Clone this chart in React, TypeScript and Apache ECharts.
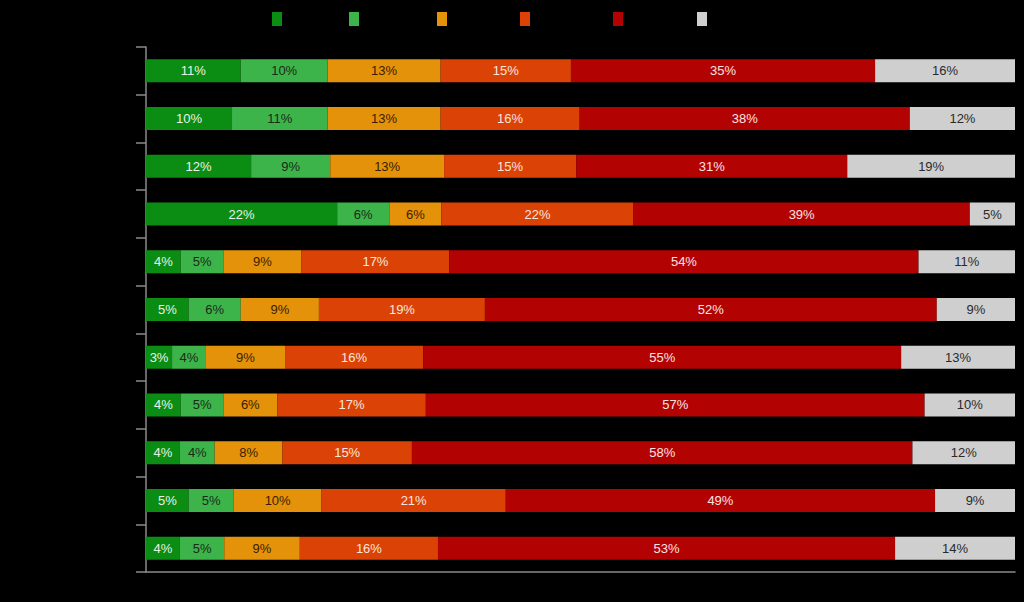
import React, { useEffect, useRef } from "react";
import * as echarts from "echarts";

const categories = ["R1", "R2", "R3", "R4", "R5", "R6", "R7", "R8", "R9", "R10", "R11"];
const seriesNames = ["S1", "S2", "S3", "S4", "S5", "S6"];
const colors = ["#0b8c12", "#3db449", "#e3920a", "#db4205", "#b30202", "#cfcfcf"];
const labelColors = ["#e8f2e8", "#1a2a1a", "#3a1d00", "#f8e6de", "#f8e2e2", "#2a2a2a"];

const s1 = [10.9, 9.9, 12.1, 22.0, 4.0, 4.9, 3.0, 4.0, 3.9, 4.9, 3.9];
const s2 = [10.0, 11.0, 9.1, 6.0, 4.9, 6.0, 3.9, 4.9, 4.0, 5.2, 5.1];
const s3 = [13.0, 13.0, 13.1, 6.0, 9.0, 9.0, 9.1, 6.2, 7.8, 10.1, 8.7];
const s4 = [15.0, 16.0, 15.2, 22.1, 17.0, 19.1, 15.9, 17.1, 14.9, 21.2, 15.9];
const s5 = [35.0, 38.0, 31.2, 38.7, 54.0, 52.0, 55.0, 57.4, 57.6, 49.4, 52.6];
const s6 = [16.1, 12.1, 19.3, 5.2, 11.1, 9.0, 13.1, 10.4, 11.8, 9.2, 13.8];
const seriesData = [s1, s2, s3, s4, s5, s6];

const legendLeft = [272, 349, 437, 520, 613, 697];

export default function App() {
  const ref = useRef<HTMLDivElement>(null);
  useEffect(() => {
    document.body.style.margin = "0";
    document.body.style.background = "#000";
    const chart = echarts.init(ref.current!, null, { renderer: "svg" });
    chart.setOption({
      animation: false,
      backgroundColor: "#000",
      legend: seriesNames.map((n, i) => ({
        data: [{ name: n, icon: "rect" }],
        left: legendLeft[i],
        top: 12,
        itemWidth: 10,
        itemHeight: 14,
        itemGap: 0,
        padding: 0,
        formatter: () => "",
        textStyle: { color: "#000", fontSize: 1 },
        selectedMode: false,
      })),
      grid: { left: 146, right: 9, top: 47, bottom: 30, containLabel: false },
      xAxis: {
        type: "value",
        min: 0,
        max: 100,
        splitLine: { show: false },
        axisLabel: { show: false },
        axisTick: { show: false },
        axisLine: { show: true, lineStyle: { color: "#8a8a8a", width: 1.5 } },
      },
      yAxis: {
        type: "category",
        data: categories,
        inverse: true,
        axisLabel: { show: false },
        axisTick: { show: true, length: 10, lineStyle: { color: "#8a8a8a", width: 1.5 } },
        axisLine: { show: true, lineStyle: { color: "#8a8a8a", width: 1.5 } },
      },
      series: seriesNames.map((n, i) => ({
        name: n,
        type: "bar",
        stack: "all",
        barWidth: 23,
        data: seriesData[i],
        itemStyle: { color: colors[i] },
        label: {
          show: true,
          position: "inside",
          color: labelColors[i],
          fontSize: 13,
          fontFamily: "Liberation Sans, Arial, sans-serif",
          formatter: (p: any) => Math.round(p.value) + "%",
        },
      })),
    });
    return () => chart.dispose();
  }, []);
  return <div ref={ref} style={{ width: 1024, height: 602 }} />;
}
